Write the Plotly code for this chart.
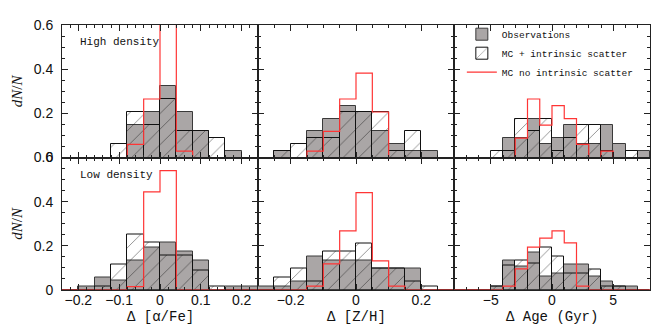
import plotly.graph_objects as go
from plotly.subplots import make_subplots

# bin starts (left edges) for each quantity
afe_bins = [-0.24, -0.20, -0.16, -0.12, -0.08, -0.04, 0.00, 0.04, 0.08, 0.12, 0.16, 0.20]
zh_bins = [-0.30, -0.25, -0.20, -0.15, -0.10, -0.05, 0.00, 0.05, 0.10, 0.15, 0.20, 0.25]
age_bins = [-8, -7, -6, -5, -4, -3, -2, -1, 0, 1, 2, 3, 4, 5, 6, 7]
afe_w, zh_w, age_w = 0.04, 0.05, 1.0

# High density
obs_hi_afe = [0, 0, 0, 0, 0.147, 0.206, 0.324, 0.206, 0.118, 0, 0.029, 0]
mc_hi_afe = [0, 0, 0, 0.059, 0.206, 0.147, 0.265, 0.118, 0.118, 0.088, 0, 0]
red_hi_afe = [0, 0, 0, 0, 0.059, 0.265, 0.647, 0.029, 0, 0, 0, 0]

obs_hi_zh = [0, 0.029, 0, 0.118, 0.176, 0.235, 0.206, 0.118, 0.059, 0.029, 0.029, 0]
mc_hi_zh = [0, 0.029, 0.059, 0.088, 0.088, 0.206, 0.206, 0.206, 0.029, 0.118, 0, 0]
red_hi_zh = [0, 0, 0, 0.029, 0.118, 0.265, 0.382, 0.206, 0, 0, 0, 0]

obs_hi_age = [0, 0, 0, 0, 0.088, 0.088, 0.176, 0.059, 0.088, 0.147, 0.059, 0.059, 0.147, 0.059, 0, 0.029]
mc_hi_age = [0, 0, 0, 0.029, 0.029, 0.176, 0.118, 0.176, 0.029, 0.088, 0.147, 0.147, 0.029, 0, 0.029, 0]
red_hi_age = [0, 0, 0, 0, 0, 0.088, 0.265, 0.147, 0.235, 0.176, 0.059, 0, 0.029, 0, 0, 0]

# Low density
obs_lo_afe = [0, 0.015, 0.056, 0.044, 0.132, 0.194, 0.213, 0.176, 0.132, 0, 0.015, 0.015]
mc_lo_afe = [0, 0, 0.015, 0.115, 0.253, 0.213, 0.154, 0.154, 0.088, 0.015, 0, 0]
red_lo_afe = [0, 0, 0, 0, 0.015, 0.444, 0.541, 0, 0, 0, 0, 0]

obs_lo_zh = [0.018, 0.018, 0.037, 0.150, 0.132, 0.132, 0.132, 0.096, 0.096, 0.096, 0, 0]
mc_lo_zh = [0, 0.056, 0.096, 0.037, 0.174, 0.174, 0.209, 0.096, 0.096, 0.037, 0.018, 0]
red_lo_zh = [0, 0, 0, 0.018, 0.118, 0.268, 0.441, 0.132, 0.018, 0, 0, 0]

obs_lo_age = [0, 0, 0, 0.018, 0.132, 0.105, 0.169, 0.059, 0.074, 0.115, 0.115, 0.059, 0.037, 0.018, 0.018, 0]
mc_lo_age = [0, 0, 0, 0.018, 0.110, 0.132, 0.118, 0.194, 0.150, 0.074, 0.074, 0.091, 0.018, 0.018, 0, 0]
red_lo_age = [0, 0, 0, 0, 0.018, 0.096, 0.194, 0.235, 0.268, 0.213, 0.018, 0, 0, 0, 0, 0]

GRAY = "#aaa6a6"
RED = "#ff3535"
MONO = "Liberation Mono"

fig = make_subplots(rows=2, cols=3, horizontal_spacing=0, vertical_spacing=0,
                    shared_xaxes=True, shared_yaxes=True)

panels = [
    (1, 1, afe_bins, afe_w, obs_hi_afe, mc_hi_afe, red_hi_afe),
    (1, 2, zh_bins, zh_w, obs_hi_zh, mc_hi_zh, red_hi_zh),
    (1, 3, age_bins, age_w, obs_hi_age, mc_hi_age, red_hi_age),
    (2, 1, afe_bins, afe_w, obs_lo_afe, mc_lo_afe, red_lo_afe),
    (2, 2, zh_bins, zh_w, obs_lo_zh, mc_lo_zh, red_lo_zh),
    (2, 3, age_bins, age_w, obs_lo_age, mc_lo_age, red_lo_age),
]

for i, (r, c, bins, w, obs, mc, red) in enumerate(panels):
    first = i == 0
    fig.add_trace(go.Bar(x=bins, y=obs, width=w, offset=0, name="Observations",
                         legendgroup="obs", showlegend=first,
                         marker=dict(color=GRAY, line=dict(color="#3a3a3a", width=1))),
                  row=r, col=c)
    fig.add_trace(go.Bar(x=bins, y=mc, width=w, offset=0, name="MC + intrinsic scatter",
                         legendgroup="mc", showlegend=first,
                         marker=dict(color="rgba(0,0,0,0)",
                                     line=dict(color="#111", width=1),
                                     pattern=dict(shape="/", fgcolor="#111",
                                                  bgcolor="rgba(0,0,0,0)",
                                                  size=11, solidity=0.08))),
                  row=r, col=c)
    # step outline through the bin edges
    xs = bins + [bins[-1] + w]
    ys = red + [red[-1]]
    fig.add_trace(go.Scatter(x=xs, y=ys, mode="lines", line_shape="hv",
                             name="MC no intrinsic scatter", legendgroup="red",
                             showlegend=first, line=dict(color=RED, width=1.2)),
                  row=r, col=c)

axis_common = dict(showline=True, linecolor="#222", linewidth=1, mirror="allticks",
                   ticks="inside", ticklen=6, tickcolor="#222", showgrid=False,
                   zeroline=False, tickfont=dict(family="Liberation Sans", size=14, color="#111"))

xspec = {1: dict(range=[-0.24, 0.24], dtick=0.1, minor=0.02),
         2: dict(range=[-0.3, 0.3], dtick=0.2, minor=0.05),
         3: dict(range=[-8, 8], dtick=5, minor=1)}

for r in (1, 2):
    for c in (1, 2, 3):
        s = xspec[c]
        fig.update_xaxes(range=s["range"], dtick=s["dtick"], tick0=0,
                         minor=dict(ticks="inside", ticklen=3, dtick=s["minor"], tick0=0, tickcolor="#222"),
                         showticklabels=(r == 2), ticklabelstandoff=-3,
                         **axis_common, row=r, col=c)
        fig.update_yaxes(range=[0, 0.6], dtick=0.2, tick0=0,
                         minor=dict(ticks="inside", ticklen=3, dtick=0.05, tick0=0, tickcolor="#222"),
                         showticklabels=(c == 1), ticklabelstandoff=5,
                         **axis_common, row=r, col=c)

# y axis titles
for yc in (0.75, 0.25):
    fig.add_annotation(text="<i>dN</i>/<i>N</i>", xref="paper", yref="paper", x=0, y=yc,
                       xanchor="center", yanchor="middle", xshift=-45, textangle=-90,
                       showarrow=False, font=dict(family="Liberation Serif", size=15, color="#111"))

# x axis titles
for xc, label in [(1 / 6, "Δ [α/Fe]"), (0.5, "Δ [Z/H]"), (5 / 6, "Δ Age (Gyr)")]:
    fig.add_annotation(text=label, xref="paper", yref="paper", x=xc, y=0,
                       xanchor="center", yanchor="top", yshift=-17, showarrow=False,
                       font=dict(family=MONO, size=14, color="#111"))

fig.add_annotation(text="High density", xref="x domain", yref="y domain", x=0.08, y=0.875,
                   xanchor="left", yanchor="middle", showarrow=False,
                   font=dict(family=MONO, size=11, color="#111"))
fig.add_annotation(text="Low density", xref="x4 domain", yref="y4 domain", x=0.08, y=0.87,
                   xanchor="left", yanchor="middle", showarrow=False,
                   font=dict(family=MONO, size=11, color="#111"))

# page body has an 8px margin, so the margins are shifted to compensate
fig.update_layout(
    width=664, height=336,
    margin=dict(l=54, r=22, t=9, b=54),
    barmode="overlay", bargap=0,
    plot_bgcolor="white", paper_bgcolor="white",
    showlegend=True,
    legend=dict(x=0.68, y=1.02, xanchor="left", yanchor="top",
                bgcolor="rgba(0,0,0,0)", tracegroupgap=0,
                font=dict(family=MONO, size=9.5, color="#111")),
)

fig.write_html("out.html")
